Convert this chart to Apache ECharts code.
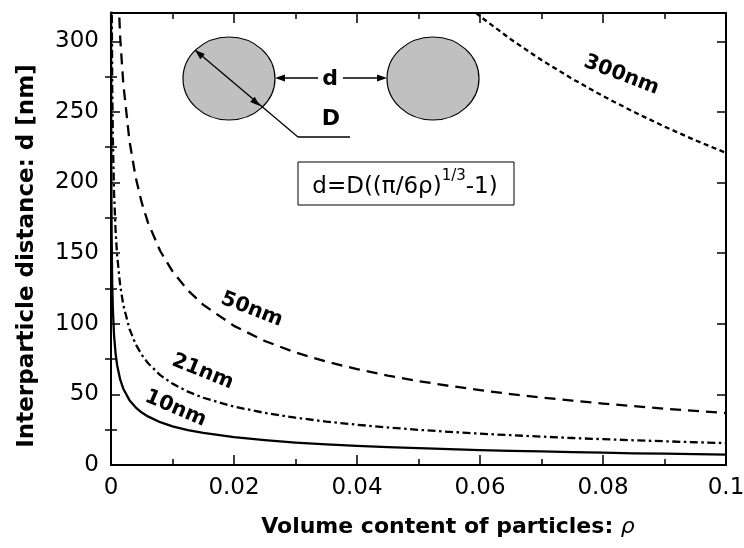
<!DOCTYPE html>
<html>
<head>
<meta charset="utf-8">
<script src="https://cdn.jsdelivr.net/npm/echarts@6/dist/echarts.min.js"></script>
<style>
  html, body { margin: 0; padding: 0; background: #fff; }
  #chart { width: 744px; height: 548px; }
</style>
</head>
<body>
<div id="chart"></div>
<script>
// Volume content of particles (x values shared by every curve)
const rho = [0.00001, 0.00002, 0.00005, 0.0001, 0.0002, 0.0003, 0.0005, 0.00075, 0.001, 0.0015,
             0.002, 0.003, 0.004, 0.005, 0.006, 0.008, 0.01, 0.0125, 0.015, 0.02,
             0.025, 0.03, 0.035, 0.04, 0.045, 0.05, 0.055, 0.06, 0.065, 0.07,
             0.075, 0.08, 0.085, 0.09, 0.095, 0.1];

// Interparticle distance d [nm] for each particle diameter
const d10nm = [364.1, 286.9, 208.8, 163.7, 127.8, 110.4, 91.6, 78.7, 70.6, 60.4,
               54.0, 45.9, 40.8, 37.1, 34.4, 30.3, 27.4, 24.7, 22.7, 19.7,
               17.6, 15.9, 14.6, 13.6, 12.7, 11.9, 11.2, 10.6, 10.0, 9.6,
               9.1, 8.7, 8.3, 8.0, 7.7, 7.4];
const d21nm = [764.6, 602.5, 438.5, 343.7, 268.4, 231.8, 192.3, 165.3, 148.3, 126.9,
               113.3, 96.4, 85.6, 78.0, 72.2, 63.6, 57.6, 51.9, 47.6, 41.3,
               36.9, 33.5, 30.7, 28.5, 26.6, 24.9, 23.5, 22.2, 21.1, 20.1,
               19.1, 18.3, 17.5, 16.8, 16.1, 15.5];
const d50nm = [1820.5, 1434.5, 1044.0, 818.3, 639.2, 552.0, 457.8, 393.6, 353.0, 302.1,
               269.9, 229.5, 203.9, 185.7, 171.8, 151.5, 137.1, 123.7, 113.4, 98.5,
               87.8, 79.7, 73.2, 67.9, 63.3, 59.4, 56.0, 53.0, 50.2, 47.8,
               45.6, 43.5, 41.7, 39.9, 38.3, 36.8];
const d300nm = [10923, 8607, 6264, 4909.5, 3834.9, 3312, 2746.5, 2361.3, 2118, 1812.3,
                1619.1, 1376.7, 1223.1, 1113.9, 1030.8, 909, 822.3, 741.9, 680.4, 590.7,
                526.8, 478.2, 439.2, 407.1, 379.8, 356.4, 335.8, 317.7, 301.4, 286.7,
                273.4, 261.2, 250.0, 239.6, 229.9, 221.0];

const curveNames = ['10nm', '21nm', '50nm', '300nm'];
const yMajorTicks = [0, 50, 100, 150, 200, 250, 300];
const yMinorTicks = [25, 75, 125, 175, 225, 275];

const FONT = 'DejaVu Sans';
const BLACK = '#000';

const chart = echarts.init(document.getElementById('chart'), null, { renderer: 'canvas' });

const majorTick = (len, vals) => ({
  show: true, inside: true, length: len,
  customValues: vals,
  lineStyle: { color: BLACK, width: 1.5 }
});

const xAxisCommon = {
  type: 'value', min: 0, max: 0.1, interval: 0.02,
  axisLine: { show: true, onZero: false, lineStyle: { color: BLACK, width: 2 } },
  axisTick: { show: true, inside: true, length: 10, lineStyle: { color: BLACK, width: 1.5 } },
  minorTick: { show: true, splitNumber: 2, length: 6, lineStyle: { color: BLACK, width: 1.5 } },
  splitLine: { show: false },
  minorSplitLine: { show: false }
};

const yAxisCommon = {
  type: 'value', min: 0, max: 320, interval: 50,
  splitLine: { show: false }
};

const seriesDefs = [
  { name: curveNames[0], values: d10nm, type: 'solid' },
  { name: curveNames[1], values: d21nm, type: [8, 3.5, 2.5, 3.5] },
  { name: curveNames[2], values: d50nm, type: [11, 7] },
  { name: curveNames[3], values: d300nm, type: [5, 3.5] }
];

const option = {
  animation: false,
  backgroundColor: '#fff',
  grid: { left: 111, right: 18, top: 13, bottom: 83, containLabel: false, outerBoundsMode: 'none' },
  xAxis: [
    Object.assign({}, xAxisCommon, {
      position: 'bottom',
      axisLabel: {
        show: true, margin: 12, color: BLACK, fontSize: 23, fontFamily: FONT,
        formatter: v => String(Number(v.toFixed(3)))
      }
    }),
    Object.assign({}, xAxisCommon, {
      position: 'top',
      axisLabel: { show: false }
    })
  ],
  yAxis: [
    Object.assign({}, yAxisCommon, {
      position: 'left',
      axisLine: { show: true, onZero: false, lineStyle: { color: BLACK, width: 2 } },
      axisTick: majorTick(9, yMajorTicks),
      axisLabel: {
        show: true, margin: 12, color: BLACK, fontSize: 23, fontFamily: FONT,
        customValues: yMajorTicks
      }
    }),
    Object.assign({}, yAxisCommon, {
      position: 'left',
      axisLine: { show: false },
      axisTick: majorTick(6, yMinorTicks),
      axisLabel: { show: false }
    }),
    Object.assign({}, yAxisCommon, {
      position: 'right',
      axisLine: { show: true, onZero: false, lineStyle: { color: BLACK, width: 2 } },
      axisTick: majorTick(9, yMajorTicks),
      axisLabel: { show: false }
    }),
    Object.assign({}, yAxisCommon, {
      position: 'right',
      axisLine: { show: false },
      axisTick: majorTick(6, yMinorTicks),
      axisLabel: { show: false }
    })
  ],
  series: seriesDefs.map(s => ({
    name: s.name,
    type: 'line',
    xAxisIndex: 0,
    yAxisIndex: 0,
    data: rho.map((x, i) => [x, s.values[i]]),
    showSymbol: false,
    symbol: 'none',
    smooth: false,
    clip: true,
    lineStyle: { color: BLACK, width: 2.3, type: s.type, cap: 'butt', join: 'round' },
    emphasis: { disabled: true },
    silent: true
  }))
};

chart.setOption(option);

// ---- annotations ----
function arrowHead(tx, ty, fx, fy, len = 10, half = 3.5) {
  const dx = tx - fx, dy = ty - fy, L = Math.hypot(dx, dy);
  const ux = dx / L, uy = dy / L;
  const bx = tx - ux * len, by = ty - uy * len;
  return {
    type: 'polygon', z: 20,
    shape: { points: [[tx, ty], [bx - uy * half, by + ux * half], [bx + uy * half, by - ux * half]] },
    style: { fill: BLACK }
  };
}
function seg(x1, y1, x2, y2, w = 1.3) {
  return { type: 'line', z: 20, shape: { x1, y1, x2, y2 }, style: { stroke: BLACK, lineWidth: w } };
}

// anchors of the rotated curve labels, in data units
const curveLabelAnchors = [
  { text: curveNames[0], at: [0.0105, 40], angle: -23 },
  { text: curveNames[1], at: [0.0149, 66], angle: -22 },
  { text: curveNames[2], at: [0.0229, 110], angle: -21 },
  { text: curveNames[3], at: [0.0830, 276], angle: -21 }
];

const graphics = [];

curveLabelAnchors.forEach(l => {
  const p = chart.convertToPixel({ gridIndex: 0 }, l.at);
  graphics.push({
    type: 'text', z: 30, x: p[0], y: p[1], rotation: l.angle * Math.PI / 180,
    style: {
      text: l.text, fill: BLACK, fontSize: 20.5, fontWeight: 'bold', fontFamily: FONT,
      align: 'center', verticalAlign: 'middle'
    }
  });
});

// two particles
graphics.push({
  type: 'ellipse', z: 15, shape: { cx: 229, cy: 78.5, rx: 46, ry: 41.5 },
  style: { fill: '#c0c0c0', stroke: BLACK, lineWidth: 1.2 }
});
graphics.push({
  type: 'ellipse', z: 15, shape: { cx: 433, cy: 78.5, rx: 46, ry: 41.5 },
  style: { fill: '#c0c0c0', stroke: BLACK, lineWidth: 1.2 }
});

// spacing arrow d
graphics.push(seg(284, 78, 318, 78));
graphics.push(arrowHead(275, 78, 318, 78));
graphics.push(seg(343, 78, 378, 78));
graphics.push(arrowHead(387, 78, 343, 78));
graphics.push({
  type: 'text', z: 30, x: 330, y: 79,
  style: { text: 'd', fill: BLACK, fontSize: 22, fontWeight: 'bold', fontFamily: FONT, align: 'center', verticalAlign: 'middle' }
});

// diameter arrow D with leader line
graphics.push(seg(195, 50, 298, 137));
graphics.push(seg(298, 137, 350, 137));
graphics.push(arrowHead(195, 50, 260, 106));
graphics.push(arrowHead(260, 106, 195, 50));
graphics.push({
  type: 'text', z: 30, x: 331, y: 119,
  style: { text: 'D', fill: BLACK, fontSize: 22, fontWeight: 'bold', fontFamily: FONT, align: 'center', verticalAlign: 'middle' }
});

// formula box
graphics.push({
  type: 'rect', z: 15, shape: { x: 298, y: 162, width: 216, height: 43 },
  style: { fill: '#fff', stroke: BLACK, lineWidth: 1 }
});
graphics.push({
  type: 'text', z: 30, x: 405, y: 184,
  style: {
    text: '{n|d=D((π/6ρ)}{s|1/3}{n|-1)}',
    fill: BLACK, fontFamily: FONT, align: 'center', verticalAlign: 'middle',
    rich: {
      n: { fontSize: 23, fontFamily: FONT, fill: BLACK, lineHeight: 30, verticalAlign: 'bottom' },
      s: { fontSize: 15, fontFamily: FONT, fill: BLACK, lineHeight: 30, verticalAlign: 'top' }
    }
  }
});

// axis titles
graphics.push({
  type: 'text', z: 30, x: 448, y: 527,
  style: {
    text: '{b|Volume content of particles: }{r|ρ}',
    fill: BLACK, align: 'center', verticalAlign: 'middle',
    rich: {
      b: { fontSize: 22, fontWeight: 'bold', fontFamily: FONT, fill: BLACK },
      r: { fontSize: 22, fontStyle: 'italic', fontFamily: FONT, fill: BLACK }
    }
  }
});
graphics.push({
  type: 'text', z: 30, x: 27, y: 256, rotation: Math.PI / 2,
  style: {
    text: 'Interparticle distance: d [nm]', fill: BLACK,
    fontSize: 23, fontWeight: 'bold', fontFamily: FONT, align: 'center', verticalAlign: 'middle'
  }
});

chart.setOption({ graphic: graphics });
</script>
</body>
</html>
